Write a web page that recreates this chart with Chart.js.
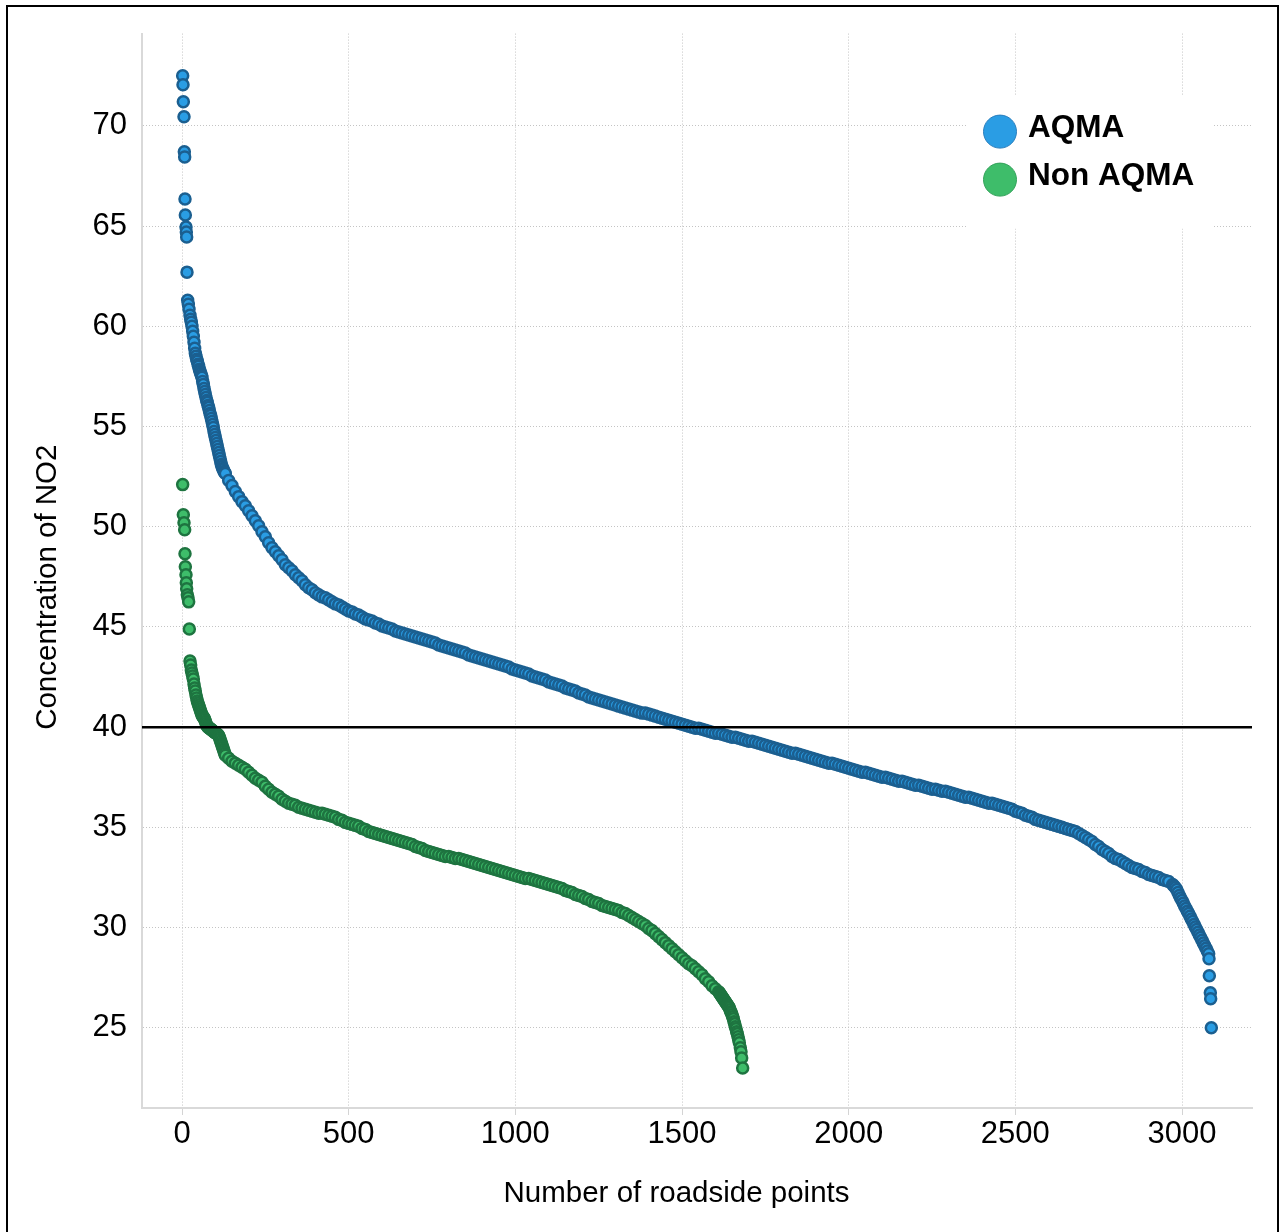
<!DOCTYPE html>
<html>
<head>
<meta charset="utf-8">
<title>NO2 concentration at roadside points</title>
<script src="https://cdn.jsdelivr.net/npm/chart.js@4.4.1/dist/chart.umd.min.js"></script>
<style>
  html, body { margin: 0; padding: 0; background: #fff; overflow: hidden; }
  #wrap { position: absolute; left: 0; top: 0; width: 1282px; height: 1232px; }
  #frame {
    position: absolute; left: 6px; top: 5px; width: 1273px; height: 1300px;
    box-sizing: border-box; border: 2px solid #000; border-bottom: none;
    pointer-events: none;
  }
</style>
</head>
<body>
<div id="wrap"><canvas id="no2Chart" width="1282" height="1232"></canvas></div>
<div id="frame"></div>
<script>
// === データ ===
// 外れ値は (順位, NO2) で個別に、連続した帯は開始順位と間隔で読み取り

// --- AQMA ---
const aqmaHeadRank = [2, 3, 4, 6, 7, 8, 9, 10, 12, 13, 14, 15, 17, 19, 21, 24, 26];
const aqmaHeadNO2 = [72.5, 72.05, 71.2, 70.45, 68.7, 68.45, 66.35, 65.55, 64.95, 64.7, 64.45, 62.7, 61.3, 61.1, 60.85, 60.55, 60.35];
// 急な区間 (順位28〜128, 2地点ごと)
const aqmaSteepStart = 28;
const aqmaSteepStep = 2;
const aqmaSteepNO2 = [
  60.2, 60.0, 59.75, 59.5, 59.2, 58.9, 58.65, 58.5, 58.35, 58.25,
  58.1, 58.0, 57.85, 57.75, 57.65, 57.55, 57.45, 57.25, 57.1, 56.9,
  56.75, 56.6, 56.45, 56.3, 56.2, 56.05, 55.95, 55.8, 55.65, 55.55,
  55.4, 55.25, 55.1, 54.95, 54.75, 54.6, 54.45, 54.3, 54.15, 54.0,
  53.85, 53.7, 53.55, 53.4, 53.25, 53.1, 53.0, 52.9, 52.85, 52.75,
  52.7
];
// なだらかな区間 (順位130〜2960, 10地点ごと)
const aqmaBandStart = 130;
const aqmaBandStep = 10;
const aqmaBandNO2 = [
  52.65, 52.3, 52.05, 51.75, 51.5, 51.25, 51.05,
  50.8, 50.55, 50.3, 50.05, 49.75, 49.5, 49.2, 48.95, 48.75, 48.55,
  48.35, 48.1, 47.95, 47.8, 47.6, 47.45, 47.3, 47.1, 46.95, 46.85,
  46.7, 46.6, 46.5, 46.45, 46.35, 46.25, 46.15, 46.1, 46.0, 45.9,
  45.8, 45.75, 45.65, 45.6, 45.5, 45.4, 45.35, 45.3, 45.2, 45.15,
  45.05, 45.0, 44.95, 44.9, 44.8, 44.75, 44.7, 44.65, 44.6, 44.55,
  44.5, 44.45, 44.4, 44.35, 44.3, 44.25, 44.2, 44.1, 44.05, 44.0,
  43.95, 43.9, 43.85, 43.8, 43.75, 43.7, 43.6, 43.55, 43.5, 43.45,
  43.4, 43.35, 43.3, 43.25, 43.2, 43.15, 43.1, 43.05, 43.0, 42.9,
  42.85, 42.8, 42.75, 42.7, 42.65, 42.55, 42.5, 42.45, 42.4, 42.35,
  42.25, 42.2, 42.15, 42.1, 42.05, 41.95, 41.9, 41.85, 41.8, 41.7,
  41.65, 41.6, 41.5, 41.45, 41.4, 41.35, 41.3, 41.25, 41.2, 41.15,
  41.1, 41.05, 41.0, 40.95, 40.9, 40.85, 40.8, 40.75, 40.7, 40.7,
  40.65, 40.6, 40.55, 40.5, 40.45, 40.4, 40.35, 40.3, 40.25, 40.2,
  40.15, 40.1, 40.05, 40.0, 39.95, 39.95, 39.9, 39.85, 39.8, 39.75,
  39.7, 39.7, 39.65, 39.6, 39.55, 39.5, 39.5, 39.45, 39.4, 39.35,
  39.3, 39.3, 39.25, 39.2, 39.15, 39.1, 39.05, 39.0, 38.95, 38.9,
  38.85, 38.8, 38.75, 38.7, 38.7, 38.65, 38.6, 38.55, 38.5, 38.45,
  38.4, 38.35, 38.3, 38.25, 38.2, 38.2, 38.15, 38.1, 38.05, 38.0,
  37.95, 37.9, 37.85, 37.8, 37.75, 37.75, 37.7, 37.65, 37.6, 37.55,
  37.5, 37.5, 37.45, 37.4, 37.35, 37.3, 37.3, 37.25, 37.2, 37.15,
  37.1, 37.1, 37.05, 37.0, 36.95, 36.9, 36.9, 36.85, 36.8, 36.8,
  36.75, 36.7, 36.65, 36.6, 36.55, 36.5, 36.5, 36.45, 36.4, 36.35,
  36.3, 36.25, 36.2, 36.2, 36.15, 36.1, 36.05, 36.0, 35.95, 35.9,
  35.8, 35.75, 35.7, 35.6, 35.55, 35.5, 35.4, 35.35, 35.3, 35.25,
  35.2, 35.15, 35.1, 35.05, 35.0, 34.95, 34.9, 34.85, 34.8, 34.7,
  34.6, 34.5, 34.4, 34.3, 34.15, 34.05, 33.9, 33.8, 33.7, 33.55,
  33.45, 33.4, 33.3, 33.2, 33.1, 33.0, 32.95, 32.9, 32.8, 32.75,
  32.65, 32.6, 32.55, 32.5, 32.4, 32.35, 32.3
];
// 末尾の急な区間 (順位2972〜3080, 4地点ごと)
const aqmaDropStart = 2972;
const aqmaDropStep = 4;
const aqmaDropNO2 = [
  32.15, 32.08, 32.0, 31.9, 31.75, 31.6, 31.48, 31.35, 31.22, 31.08,
  30.95, 30.82, 30.7, 30.56, 30.43, 30.3, 30.16, 30.03, 29.9, 29.77,
  29.63, 29.5, 29.37, 29.23, 29.1, 28.97, 28.83, 28.7
];
const aqmaTailRank = [3081, 3082, 3085, 3086, 3088];
const aqmaTailNO2 = [28.45, 27.6, 26.75, 26.45, 25.0];

// --- Non AQMA ---
const nonHeadRank = [2, 4, 6, 8, 9, 10, 12, 13, 14, 16, 18, 20, 22];
const nonHeadNO2 = [52.1, 50.6, 50.2, 49.85, 48.65, 48.0, 47.6, 47.2, 46.9, 46.6, 46.45, 46.25, 44.9];
// 急な区間 (順位24〜130, 2地点ごと)
const nonSteepStart = 24;
const nonSteepStep = 2;
const nonSteepNO2 = [
  43.3, 43.1, 42.85, 42.7, 42.55, 42.4, 42.15, 41.95, 41.8, 41.6,
  41.45, 41.3, 41.2, 41.1, 41.0, 40.9, 40.8, 40.7, 40.6, 40.55,
  40.5, 40.45, 40.4, 40.3, 40.2, 40.1, 40.05, 40.0, 39.98, 39.95,
  39.93, 39.9, 39.88, 39.85, 39.82, 39.8, 39.77, 39.74, 39.72, 39.7,
  39.68, 39.65, 39.62, 39.58, 39.5, 39.4, 39.3, 39.2, 39.1, 39.0,
  38.9, 38.8, 38.7, 38.6
];
// なだらかな区間 (順位140〜1610, 10地点ごと)
const nonBandStart = 140;
const nonBandStep = 10;
const nonBandNO2 = [
  38.45, 38.3, 38.2, 38.1, 38.0, 37.9,
  37.75, 37.6, 37.45, 37.35, 37.25, 37.05, 36.9, 36.75, 36.65, 36.55,
  36.4, 36.3, 36.2, 36.15, 36.1, 36.0, 35.95, 35.9, 35.85, 35.8,
  35.75, 35.7, 35.7, 35.65, 35.6, 35.55, 35.5, 35.4, 35.35, 35.25,
  35.2, 35.15, 35.1, 35.05, 34.95, 34.9, 34.8, 34.75, 34.7, 34.65,
  34.6, 34.55, 34.5, 34.45, 34.4, 34.35, 34.3, 34.25, 34.2, 34.15,
  34.05, 34.0, 33.95, 33.85, 33.8, 33.75, 33.7, 33.65, 33.6, 33.55,
  33.55, 33.5, 33.45, 33.45, 33.4, 33.35, 33.3, 33.25, 33.2, 33.15,
  33.1, 33.05, 33.0, 32.95, 32.9, 32.85, 32.8, 32.75, 32.7, 32.65,
  32.6, 32.55, 32.5, 32.45, 32.45, 32.4, 32.35, 32.3, 32.25, 32.2,
  32.15, 32.1, 32.05, 32.0, 31.95, 31.85, 31.8, 31.75, 31.65, 31.6,
  31.55, 31.45, 31.4, 31.3, 31.25, 31.2, 31.1, 31.05, 31.0, 30.95,
  30.9, 30.85, 30.75, 30.7, 30.6, 30.5, 30.4, 30.3, 30.2, 30.1,
  29.95, 29.85, 29.7, 29.55, 29.4, 29.25, 29.1, 28.95, 28.8, 28.65,
  28.5, 28.35, 28.2, 28.1, 27.95, 27.8, 27.65, 27.45, 27.3, 27.1,
  26.95, 26.8
];
// 末尾の急な区間 (順位1612〜1672, 2地点ごと)
const nonDropStart = 1612;
const nonDropStep = 2;
const nonDropNO2 = [
  26.75, 26.7, 26.65, 26.6, 26.55, 26.5, 26.45, 26.4, 26.35, 26.3,
  26.25, 26.2, 26.15, 26.1, 26.05, 26.0, 25.9, 25.8, 25.75, 25.65,
  25.55, 25.45, 25.3, 25.2, 25.05, 24.95, 24.8, 24.7, 24.55, 24.4,
  24.25
];
const nonTailRank = [1675, 1677, 1679, 1682];
const nonTailNO2 = [24.0, 23.8, 23.5, 23.0];

const limitValue = 40; // 基準値ライン
const seriesLabels = ['AQMA', 'Non AQMA'];
const xTickValues = [0, 500, 1000, 1500, 2000, 2500, 3000];
const yTickValues = [25, 30, 35, 40, 45, 50, 55, 60, 65, 70];
const X_MIN = -120, X_MAX = 3210;
const Y_MIN = 21, Y_MAX = 74.6;

// === 点データの組み立て ===
const toPoints = (ranks, values) => ranks.map((r, i) => ({ x: r, y: values[i] }));
const segmentPoints = (start, step, values) => values.map((v, i) => ({ x: start + i * step, y: v }));

const aqmaPoints = [
  ...toPoints(aqmaHeadRank, aqmaHeadNO2),
  ...segmentPoints(aqmaSteepStart, aqmaSteepStep, aqmaSteepNO2),
  ...segmentPoints(aqmaBandStart, aqmaBandStep, aqmaBandNO2),
  ...segmentPoints(aqmaDropStart, aqmaDropStep, aqmaDropNO2),
  ...toPoints(aqmaTailRank, aqmaTailNO2)
];
const nonPoints = [
  ...toPoints(nonHeadRank, nonHeadNO2),
  ...segmentPoints(nonSteepStart, nonSteepStep, nonSteepNO2),
  ...segmentPoints(nonBandStart, nonBandStep, nonBandNO2),
  ...segmentPoints(nonDropStart, nonDropStep, nonDropNO2),
  ...toPoints(nonTailRank, nonTailNO2)
];

const FONT = "'Liberation Sans', Arial, sans-serif";
Chart.defaults.font.family = FONT;
Chart.defaults.color = '#000';

/**
 * グラフ内右上の凡例 (白背景)
 */
const insideLegend = {
  id: 'insideLegend',
  beforeDatasetsDraw(chart) {
    const { ctx, chartArea } = chart;
    const left = chartArea.right - 285;
    const top = chartArea.top + 62;
    ctx.save();
    ctx.fillStyle = '#fff';
    ctx.fillRect(left, top, 246, 133);
    ctx.font = 'bold 31.5px ' + FONT;
    ctx.textBaseline = 'middle';
    ctx.textAlign = 'left';
    chart.data.datasets.filter(ds => ds.type === 'scatter').forEach((ds, i) => {
      const cy = top + 36 + i * 48;
      ctx.beginPath();
      ctx.arc(left + 33, cy, 16.5, 0, Math.PI * 2);
      ctx.fillStyle = ds.backgroundColor;
      ctx.fill();
      ctx.lineWidth = 1;
      ctx.strokeStyle = ds.legendBorder;
      ctx.stroke();
      ctx.fillStyle = '#000';
      ctx.fillText(ds.label, left + 61, cy - 3);
    });
    ctx.restore();
  }
};

const gridStyle = { color: '#c4c4c4', lineWidth: 1 };
const borderStyle = { color: '#d9d9d9', width: 2, dash: [1, 2] };

new Chart(document.getElementById('no2Chart'), {
  type: 'scatter',
  data: {
    datasets: [
      {
        type: 'line',
        label: 'limit',
        data: [{ x: X_MIN, y: limitValue }, { x: X_MAX, y: limitValue }],
        borderColor: '#000',
        borderWidth: 2.5,
        pointRadius: 0,
        order: 0
      },
      {
        type: 'scatter',
        label: seriesLabels[0],
        data: aqmaPoints,
        backgroundColor: '#2a9de4',
        borderColor: '#1b5f90',
        legendBorder: '#2a7fbe',
        borderWidth: 2.5,
        pointRadius: 5.5,
        order: 1
      },
      {
        type: 'scatter',
        label: seriesLabels[1],
        data: nonPoints,
        backgroundColor: '#3ebd6a',
        borderColor: '#1e7440',
        legendBorder: '#33a25a',
        borderWidth: 2.5,
        pointRadius: 5.5,
        order: 2
      }
    ]
  },
  options: {
    responsive: false,
    animation: false,
    devicePixelRatio: 1,
    layout: { padding: { left: 0, top: 30, right: 30, bottom: 0 } },
    plugins: {
      legend: { display: false },
      tooltip: { enabled: false }
    },
    scales: {
      x: {
        type: 'linear',
        min: X_MIN,
        max: X_MAX,
        afterBuildTicks: scale => { scale.ticks = xTickValues.map(v => ({ value: v })); },
        afterFit: scale => { scale.height = 124; },
        grid: { ...gridStyle, drawTicks: true, tickLength: 7, tickColor: '#d4d4d4', tickBorderDash: [] },
        border: borderStyle,
        ticks: { font: { size: 31 }, padding: 1, maxRotation: 0, callback: v => String(v) },
        title: {
          display: true,
          // 末尾の空白で元図と同じく少し左寄せ
          text: 'Number of roadside points     ',
          font: { size: 29.5 },
          padding: { top: 0, bottom: 20 }
        }
      },
      y: {
        type: 'linear',
        min: Y_MIN,
        max: Y_MAX,
        afterBuildTicks: scale => { scale.ticks = yTickValues.map(v => ({ value: v })); },
        afterFit: scale => { scale.width = 142; },
        grid: { ...gridStyle, drawTicks: false },
        border: borderStyle,
        ticks: { font: { size: 31 }, padding: 15, callback: v => String(v) },
        title: {
          display: true,
          text: 'Concentration of NO2    ',
          font: { size: 29.5 },
          padding: { top: 30, bottom: 0 }
        }
      }
    }
  },
  plugins: [insideLegend]
});
</script>
</body>
</html>
